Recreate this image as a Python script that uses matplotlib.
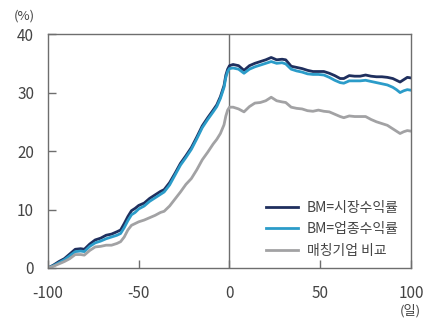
import numpy as np
import matplotlib.pyplot as plt

plt.rcParams['font.family'] = ['Noto Sans CJK KR', 'DejaVu Sans']
plt.rcParams['axes.unicode_minus'] = False

days = [-100, -97, -94, -91, -88, -85, -82, -80, -77, -74, -71, -68, -65, -62, -60,
        -58, -56, -54, -52, -50, -47, -44, -41, -38, -36, -33, -30, -27, -24, -21,
        -18, -15, -12, -9, -7, -5, -3, -2, -1, 0, 2, 5, 8, 11, 14, 17, 20, 23, 26,
        29, 31, 34, 37, 40, 43, 46, 49, 52, 55, 58, 61, 63, 66, 69, 72, 75, 78, 81,
        84, 87, 90, 92, 94, 96, 98, 100]

market = [0.0, 0.5, 1.1, 1.6, 2.4, 3.2, 3.3, 3.2, 4.1, 4.8, 5.1, 5.6, 5.8, 6.2, 6.5,
          7.6, 8.8, 9.8, 10.2, 10.7, 11.1, 11.9, 12.5, 13.1, 13.4, 14.6, 16.2, 17.9, 19.2, 20.6,
          22.4, 24.3, 25.7, 27.0, 27.9, 29.3, 31.2, 33.0, 34.0, 34.6, 34.8, 34.6, 33.8, 34.6, 35.0,
          35.3, 35.6, 36.0, 35.6, 35.7, 35.6, 34.5, 34.3, 34.1, 33.8, 33.6, 33.6, 33.6, 33.3, 32.9,
          32.4, 32.4, 32.9, 32.8, 32.8, 33.0, 32.8, 32.7, 32.7, 32.6, 32.4, 32.1, 31.8, 32.2, 32.6, 32.5]

industry = [0.0, 0.4, 0.9, 1.4, 2.1, 2.8, 2.9, 2.8, 3.7, 4.3, 4.6, 5.0, 5.3, 5.6, 5.9,
            6.9, 8.1, 9.1, 9.5, 10.1, 10.6, 11.4, 12.0, 12.6, 13.0, 14.2, 15.9, 17.6, 18.9, 20.3,
            22.1, 24.0, 25.4, 26.7, 27.6, 29.0, 30.9, 32.6, 33.6, 34.1, 34.2, 34.0, 33.3, 34.0, 34.4,
            34.7, 35.0, 35.3, 35.0, 35.1, 34.9, 34.0, 33.7, 33.5, 33.2, 33.1, 33.1, 33.0, 32.6, 32.1,
            31.7, 31.6, 32.0, 32.0, 32.0, 32.1, 31.9, 31.7, 31.5, 31.3, 30.9, 30.5, 30.0, 30.3, 30.5, 30.4]

matched = [0.0, 0.3, 0.7, 1.1, 1.6, 2.3, 2.3, 2.2, 3.0, 3.6, 3.7, 3.9, 3.9, 4.2, 4.5,
           5.3, 6.5, 7.3, 7.6, 7.9, 8.2, 8.6, 9.0, 9.5, 9.7, 10.6, 11.8, 13.0, 14.3, 15.3,
           16.8, 18.5, 19.8, 21.2, 22.0, 23.0, 24.5, 26.0, 27.0, 27.5, 27.5, 27.2, 26.7, 27.6, 28.2,
           28.3, 28.6, 29.2, 28.6, 28.4, 28.3, 27.5, 27.3, 27.2, 26.9, 26.8, 27.0, 26.8, 26.7, 26.3,
           25.9, 25.7, 26.0, 25.9, 25.9, 25.9, 25.4, 25.0, 24.7, 24.4, 23.8, 23.4, 23.0, 23.3, 23.5, 23.4]

labels = ['BM=시장수익률', 'BM=업종수익률', '매칭기업 비교']
colors = ['#1f2f5e', '#2b9cc9', '#a2a2a4']

fig = plt.figure(figsize=(4.23, 3.2), dpi=100)
ax = fig.add_axes([0.1135, 0.1625, 0.858, 0.731])

for ys, lab, c in zip([market, industry, matched], labels, colors):
    ax.plot(days, ys, color=c, lw=2.0, label=lab)

ax.axvline(0, color='#6e6e6e', lw=1.0, zorder=1)

ax.set_xlim(-100, 100)
ax.set_ylim(0, 40)
ax.set_xticks([-100, -50, 0, 50, 100])
ax.set_yticks([0, 10, 20, 30, 40])
ax.tick_params(direction='in', length=6, width=1.0, color='#6e6e6e',
               labelsize=11, labelcolor='#444444')
ax.tick_params(axis='y', pad=10)
ax.tick_params(axis='x', pad=12)
for s in ax.spines.values():
    s.set_color('#6e6e6e')
    s.set_linewidth(1.0)

fig.text(14 / 423, 1 - 16 / 320, '(%)', fontsize=9.5, color='#444444', va='center', ha='left')
fig.text(410 / 423, 1 - 311 / 320, '(일)', fontsize=9.5, color='#444444', va='center', ha='center')

ax.legend(loc='lower right', frameon=False, fontsize=10, handlelength=2.3,
          handletextpad=0.6, labelspacing=0.55, bbox_to_anchor=(1.0, -0.01),
          labelcolor='#444444')

fig.savefig('out.png', dpi=100)
